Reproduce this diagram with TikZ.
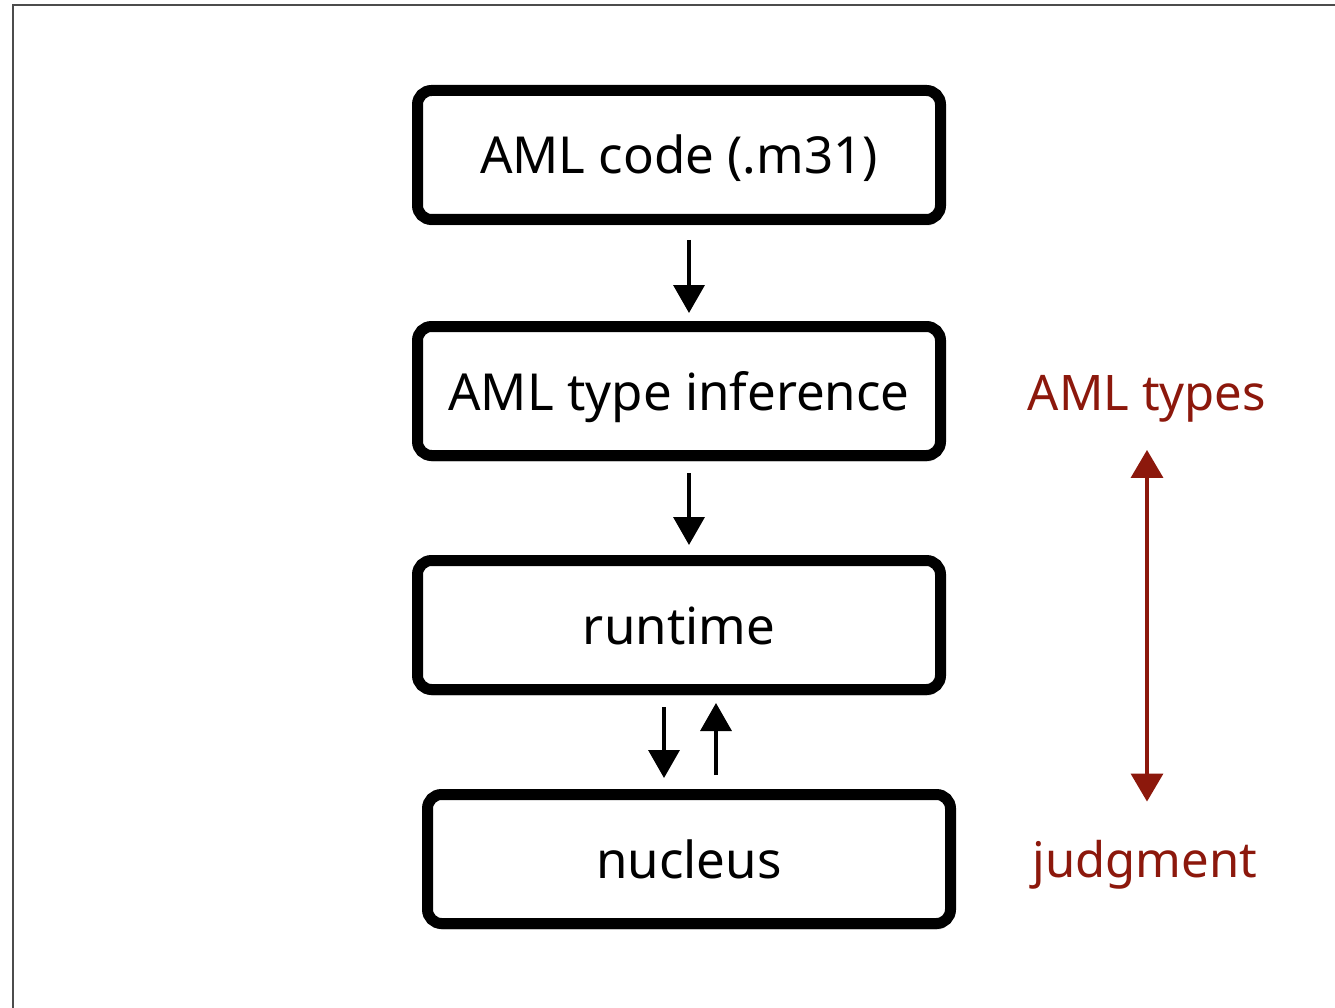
\documentclass[tikz,border=0pt]{standalone}
\usepackage{fontspec}
\setmainfont{Noto Sans}
\usepackage{xcolor}
\usetikzlibrary{arrows.meta,shadows}
\definecolor{amlred}{RGB}{140,24,12}
\tikzset{stage/.style={draw=black, line width=11pt, rounded corners=14pt, fill=white, minimum width=523pt, minimum height=129pt, inner sep=0pt, text height=46pt, text depth=8pt, font=\fontsize{51}{60}\selectfont, drop shadow={shadow xshift=1pt, shadow yshift=-6pt, opacity=0.2, fill=black}}}
\tikzset{flow/.style={line width=3.5pt, -{Triangle[width=31pt,length=28pt]}}}
\tikzset{note/.style={text=amlred, inner sep=0pt, font=\fontsize{49}{58}\selectfont}}
\tikzset{span/.style={amlred, line width=3.5pt, {Triangle[width=32pt,length=28pt]}-{Triangle[width=32pt,length=28pt]}}}
\tikzset{frame/.style={draw=black!70, line width=2pt}}

\begin{document}
\begin{tikzpicture}[x=1pt, y=-1pt]
		\useasboundingbox (0,0) rectangle (1335,1008);
		\draw[frame] (13,1008) -- (13,5) -- (1335,5);
		
		\node[stage] (code) at (679,155) {AML code (.m31)};
		\node[stage] (infer) at (679,391) {AML type inference};
		\node[stage] (runtime) at (679,625) {runtime};
		\node[stage] (nucleus) at (689,859) {nucleus};
		
		\draw[flow] ([xshift=10pt,yshift=-15pt]code.south) -- ([xshift=10pt,yshift=8pt]infer.north);
		\draw[flow] ([xshift=10pt,yshift=-12pt]infer.south) -- ([xshift=10pt,yshift=10pt]runtime.north);
		\draw[flow] ([xshift=-15pt,yshift=-12pt]runtime.south) -- ([xshift=-25pt,yshift=11pt]nucleus.north);
		\draw[flow] ([xshift=27pt,yshift=14pt]nucleus.north) -- ([xshift=37pt,yshift=-8pt]runtime.south);
		
		\node[note, anchor=base] (types) at (1147,410) {AML types};
		\node[note, anchor=base] (judge) at (1145,877) {judgment};
		\draw[span] ([xshift=0pt,yshift=-28pt]types.south) -- ([xshift=2pt,yshift=38pt]judge.north);
	\end{tikzpicture}
\end{document}
